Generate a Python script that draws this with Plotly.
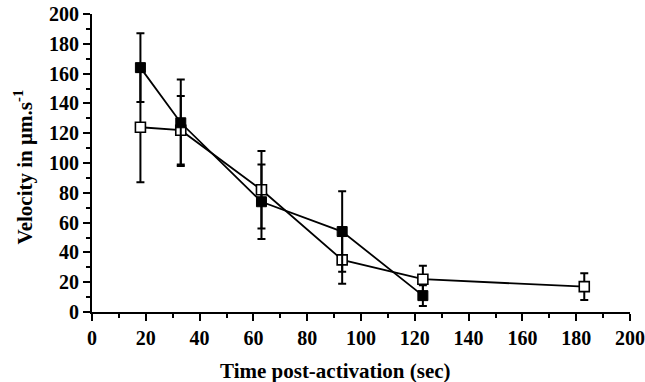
import plotly.graph_objects as go

# Time after activation (sec) and mean velocity (um/s) with error
time_filled = [18, 33, 63, 93, 123]
vel_filled = [164, 127, 74, 54, 11]
err_filled = [23, 29, 25, 27, 7]

time_open = [18, 33, 63, 93, 123, 183]
vel_open = [124, 122, 82, 35, 22, 17]
err_open = [37, 23, 26, 16, 9, 9]

x_ticks = list(range(0, 201, 20))
y_ticks = list(range(0, 201, 20))

FONT = "Liberation Serif, Times New Roman, serif"

fig = go.Figure()

fig.add_trace(go.Scatter(
    x=time_open, y=vel_open,
    mode="lines+markers",
    line=dict(color="black", width=1.8),
    marker=dict(symbol="square", size=10, color="white",
                line=dict(color="black", width=1.6)),
    error_y=dict(type="data", array=err_open, visible=True,
                 color="black", thickness=2, width=4),
    cliponaxis=False,
    showlegend=False,
))

fig.add_trace(go.Scatter(
    x=time_filled, y=vel_filled,
    mode="lines+markers",
    line=dict(color="black", width=1.8),
    marker=dict(symbol="square", size=10, color="black",
                line=dict(color="black", width=1)),
    error_y=dict(type="data", array=err_filled, visible=True,
                 color="black", thickness=2, width=4),
    cliponaxis=False,
    showlegend=False,
))

axis_common = dict(
    showgrid=False, zeroline=False,
    showline=True, linecolor="black", linewidth=2,
    ticks="outside", tickcolor="black", tickwidth=2, ticklen=7,
    tickfont=dict(family=FONT, size=20, color="black", weight="bold"),
    range=[0, 200],
    minor=dict(ticks="outside", dtick=10, ticklen=4,
               tickcolor="black", tickwidth=2),
    automargin=False,
)

title_font = dict(family=FONT, size=21, color="black", weight="bold")

fig.update_layout(
    width=645, height=382,
    margin=dict(l=92, r=15, t=14, b=70, autoexpand=False),
    plot_bgcolor="white", paper_bgcolor="white",
    xaxis=dict(**axis_common, tickvals=x_ticks),
    yaxis=dict(**axis_common, tickvals=y_ticks),
    annotations=[
        dict(text="Time post-activation (sec)", font=title_font,
             xref="paper", yref="paper", x=0.4517, y=-0.198,
             xanchor="center", yanchor="middle", showarrow=False),
        dict(text="Velocity in µm.s<sup>-1</sup>", font=title_font,
             xref="paper", yref="paper", x=-0.1264, y=0.488,
             xanchor="center", yanchor="middle", textangle=-90,
             showarrow=False),
    ],
)

fig.write_html("out.html")
